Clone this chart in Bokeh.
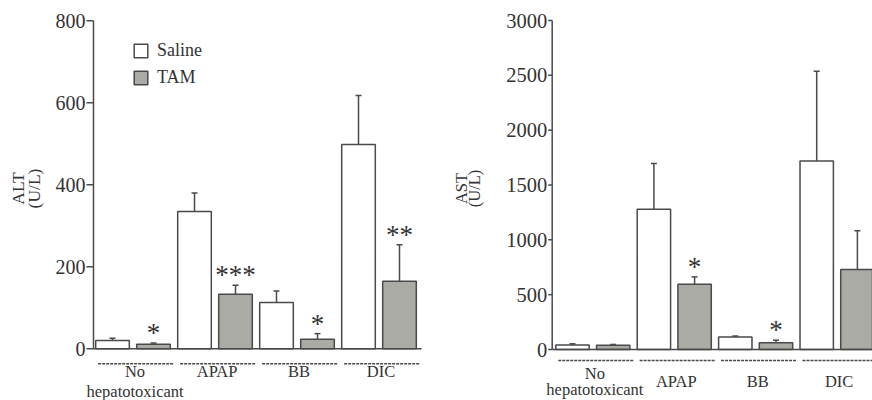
import math
from bokeh.plotting import figure
from bokeh.layouts import row
from bokeh.models import ColumnDataSource, Range1d, Legend, LegendItem
from bokeh.core.properties import value
from bokeh.embed import file_html
from bokeh.resources import INLINE

# ---------------- data ----------------
groups = ["No\nhepatotoxicant", "APAP", "BB", "DIC"]
series = ["Saline", "TAM"]

alt_saline = [20, 335, 113, 498]
alt_saline_err = [6, 45, 28, 120]
alt_tam = [11, 133, 23, 165]
alt_tam_err = [3, 22, 14, 89]
alt_stars = ["*", "***", "*", "**"]
alt_ticks = [0, 200, 400, 600, 800]

ast_saline = [40, 1278, 115, 1718]
ast_saline_err = [12, 417, 8, 820]
ast_tam = [38, 596, 61, 730]
ast_tam_err = [8, 66, 24, 352]
ast_stars = ["", "*", "*", ""]
ast_ticks = [0, 500, 1000, 1500, 2000, 2500, 3000]

# ---------------- style ----------------
FONT = "Liberation Serif"
INK = "#333333"
AXIS = "#4a4a4a"
GRAY = "#a9aba4"
BAR_W = 0.82


def panel(width, ylab, saline, saline_err, tam, tam_err, stars, ticks, ymax,
          zero_px, top_px, first_center_px, pitch_px, axis_px, axis_end_px,
          tick_len, tick_font, ylab_font, ylab_lh, ylab_x_px, ylab_y_px,
          underline_px, label_px, label_baseline, label_lh):
    height = 400
    ppu = (zero_px - top_px) / ymax
    y_end = zero_px / ppu
    y_start = -(height - zero_px) / ppu

    def X(px):  # screen x (within figure) -> data x
        return (px - first_center_px) / pitch_px

    def Y(py):  # screen y -> data y
        return (zero_px - py) * 1.0 / ppu

    p = figure(width=width, height=height, output_backend="svg",
               toolbar_location=None,
               x_range=Range1d(X(0), X(width)), y_range=Range1d(y_start, y_end),
               min_border=0)
    p.outline_line_color = None
    p.xgrid.visible = False
    p.ygrid.visible = False
    p.xaxis.visible = False
    p.yaxis.visible = False

    ax = X(axis_px)
    # y axis line, ticks, tick labels
    p.segment(x0=[ax], y0=[0], x1=[ax], y1=[ymax], line_color=AXIS, line_width=1.5)
    tsrc = ColumnDataSource(dict(y=ticks, lab=[str(t) for t in ticks],
                                 x0=[X(axis_px - tick_len)] * len(ticks),
                                 x1=[ax] * len(ticks),
                                 xl=[X(axis_px - tick_len - 1)] * len(ticks)))
    p.segment(x0="x0", y0="y", x1="x1", y1="y", source=tsrc,
              line_color=AXIS, line_width=1.5)
    p.text(x="xl", y="y", text="lab", source=tsrc, text_font=value(FONT),
           text_font_size=tick_font, text_color=INK, text_align="right",
           text_baseline="middle")
    # y axis title
    p.text(x=[X(ylab_x_px)], y=[Y(ylab_y_px)], text=[ylab], angle=math.pi / 2,
           text_font=value(FONT), text_font_size=ylab_font, text_color=INK,
           text_align="center", text_baseline="middle", text_line_height=ylab_lh)

    n = len(saline)
    src_s = ColumnDataSource(dict(x=[2 * g for g in range(n)], top=saline,
                                  etop=[v + e for v, e in zip(saline, saline_err)]))
    src_t = ColumnDataSource(dict(x=[2 * g + 1 for g in range(n)], top=tam,
                                  etop=[v + e for v, e in zip(tam, tam_err)], star=stars))

    for src in (src_s, src_t):
        p.segment(x0="x", y0="top", x1="x", y1="etop", source=src,
                  line_color=AXIS, line_width=1.5)
        p.scatter(x="x", y="etop", marker="dash", size=6, source=src,
                  line_color=AXIS, line_width=1.5)

    r_s = p.vbar(x="x", top="top", bottom=0, width=BAR_W, source=src_s,
                 fill_color="white", line_color=AXIS, line_width=1.5)
    r_t = p.vbar(x="x", top="top", bottom=0, width=BAR_W, source=src_t,
                 fill_color=GRAY, line_color=AXIS, line_width=1.5)

    p.text(x="x", y="etop", text="star", source=src_t, y_offset=-10,
           text_font=value(FONT), text_font_size="27px", text_color=INK,
           text_align="center", text_baseline="middle")

    # baseline (x axis line)
    p.segment(x0=[ax], y0=[0], x1=[X(axis_end_px)], y1=[0],
              line_color=AXIS, line_width=1.5)

    # group underlines and labels
    gsrc = ColumnDataSource(dict(
        x0=[2 * g - 0.35 for g in range(n)], x1=[2 * g + 1.5 for g in range(n)],
        y=[Y(zero_px + underline_px)] * n, xc=[2 * g + 0.55 for g in range(n)],
        ly=[Y(zero_px + label_px)] * n, label=groups))
    p.segment(x0="x0", y0="y", x1="x1", y1="y", source=gsrc,
              line_color=AXIS, line_width=1.5, line_dash="3 1")
    p.text(x="xc", y="ly", text="label", source=gsrc,
           text_font=value(FONT), text_font_size="16.5px", text_color=INK,
           text_align="center", text_baseline=label_baseline,
           text_line_height=label_lh)
    return p, r_s, r_t


left, ls, lt = panel(440, "ALT\n(U/L)", alt_saline, alt_saline_err, alt_tam, alt_tam_err,
                     alt_stars, alt_ticks, 800,
                     zero_px=348.3, top_px=20.3, first_center_px=112, pitch_px=41,
                     axis_px=93, axis_end_px=421, tick_len=7, tick_font="20px",
                     ylab_font="17.5px", ylab_lh=0.78, ylab_x_px=25.5, ylab_y_px=188,
                     underline_px=15, label_px=13, label_baseline="top", label_lh=1.04)
right, rs, rt = panel(432, "AST\n(U/L)", ast_saline, ast_saline_err, ast_tam, ast_tam_err,
                      ast_stars, ast_ticks, 3000,
                      zero_px=349, top_px=20, first_center_px=132, pitch_px=40.7,
                      axis_px=111.7, axis_end_px=432, tick_len=4, tick_font="20.5px",
                      ylab_font="16.5px", ylab_lh=0.72, ylab_x_px=27.5, ylab_y_px=188,
                      underline_px=11, label_px=32, label_baseline="middle", label_lh=0.88)

legend = Legend(items=[LegendItem(label=series[0], renderers=[ls]),
                       LegendItem(label=series[1], renderers=[lt])],
                location=(132, 312), orientation="vertical",
                glyph_width=17, glyph_height=17, label_height=17, spacing=6,
                label_standoff=8, padding=0, margin=0,
                border_line_alpha=0, background_fill_alpha=0,
                label_text_font=FONT, label_text_font_size="18px",
                label_text_color=INK)
left.add_layout(legend)

layout = row(left, right, spacing=0)
open("out.html", "w").write(file_html(layout, INLINE))
